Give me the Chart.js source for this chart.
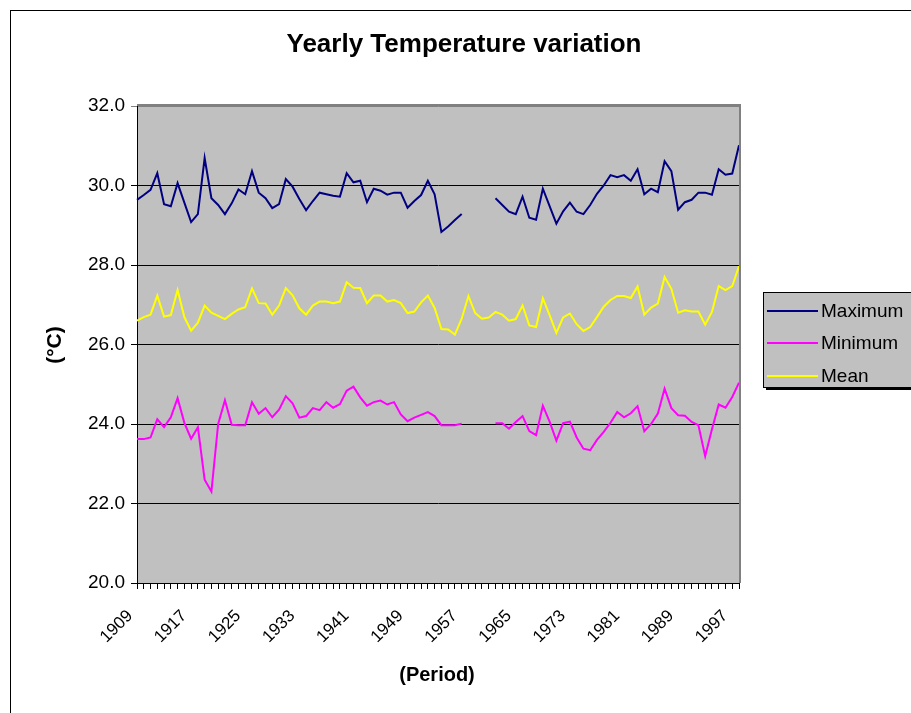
<!DOCTYPE html>
<html>
<head>
<meta charset="utf-8">
<script src="https://cdn.jsdelivr.net/npm/chart.js@4.4.1/dist/chart.umd.min.js"></script>
<style>
    html, body { margin: 0; padding: 0; background: #fff; }
    canvas { display: block; }
</style>
</head>
<body>
<canvas id="grafico" width="911" height="713"></canvas>
<script>
const anos = [
    "1909", "1910", "1911", "1912", "1913", "1914", "1915", "1916", "1917", "1918",
    "1919", "1920", "1921", "1922", "1923", "1924", "1925", "1926", "1927", "1928",
    "1929", "1930", "1931", "1932", "1933", "1934", "1935", "1936", "1937", "1938",
    "1939", "1940", "1941", "1942", "1943", "1944", "1945", "1946", "1947", "1948",
    "1949", "1950", "1951", "1952", "1953", "1954", "1955", "1956", "1957", "1958",
    "1959", "1960", "1961", "1962", "1963", "1964", "1965", "1966", "1967", "1968",
    "1969", "1970", "1971", "1972", "1973", "1974", "1975", "1976", "1977", "1978",
    "1979", "1980", "1981", "1982", "1983", "1984", "1985", "1986", "1987", "1988",
    "1989", "1990", "1991", "1992", "1993", "1994", "1995", "1996", "1997", "1998"
];

// only these years are written under the axis
const rotulosEixo = ["1909", "1917", "1925", "1933", "1941", "1949", "1957", "1965", "1973", "1981", "1989", "1997"];

const maximas = [
    29.64, 29.76, 29.89, 30.31, 29.53, 29.48, 30.06, 29.57, 29.08, 29.28,
    30.69, 29.68, 29.51, 29.28, 29.55, 29.90, 29.78, 30.36, 29.82, 29.68,
    29.43, 29.53, 30.16, 29.97, 29.66, 29.38, 29.61, 29.82, 29.78, 29.74,
    29.72, 30.31, 30.08, 30.12, 29.58, 29.92, 29.87, 29.77, 29.82, 29.82,
    29.44, 29.61, 29.76, 30.12, 29.78, 28.83, 28.97, 29.13, 29.28, null,
    null, null, null, 29.68, 29.51, 29.34, 29.28, 29.72, 29.19, 29.14,
    29.92, 29.48, 29.04, 29.35, 29.57, 29.34, 29.28, 29.51, 29.79, 30.00,
    30.26, 30.21, 30.26, 30.12, 30.41, 29.78, 29.92, 29.83, 30.61, 30.36,
    29.39, 29.58, 29.64, 29.82, 29.82, 29.77, 30.41, 30.27, 30.30, 31.01
];

const minimas = [
    23.62, 23.62, 23.66, 24.12, 23.92, 24.17, 24.65, 24.03, 23.63, 23.92,
    22.60, 22.30, 24.00, 24.60, 23.98, 23.97, 23.97, 24.55, 24.26, 24.40,
    24.17, 24.36, 24.70, 24.52, 24.16, 24.20, 24.40, 24.35, 24.55, 24.41,
    24.50, 24.84, 24.94, 24.67, 24.46, 24.55, 24.59, 24.49, 24.55, 24.24,
    24.07, 24.16, 24.23, 24.30, 24.20, 23.97, 23.97, 23.97, 24.01, null,
    null, null, null, 24.02, 24.02, 23.88, 24.05, 24.20, 23.82, 23.72,
    24.46, 24.06, 23.58, 24.02, 24.06, 23.66, 23.38, 23.34, 23.60, 23.80,
    24.03, 24.30, 24.17, 24.27, 24.45, 23.82, 24.00, 24.26, 24.89, 24.40,
    24.22, 24.21, 24.05, 23.97, 23.19, 23.87, 24.49, 24.41, 24.68, 25.04
];

const medias = [
    26.60, 26.69, 26.75, 27.23, 26.70, 26.74, 27.37, 26.69, 26.35, 26.55,
    26.98, 26.80, 26.72, 26.64, 26.77, 26.88, 26.94, 27.41, 27.04, 27.03,
    26.75, 26.98, 27.42, 27.24, 26.91, 26.75, 26.98, 27.08, 27.08, 27.04,
    27.08, 27.57, 27.43, 27.42, 27.04, 27.23, 27.23, 27.08, 27.12, 27.04,
    26.79, 26.83, 27.06, 27.23, 26.92, 26.39, 26.38, 26.25, 26.65, 27.22,
    26.79, 26.65, 26.68, 26.82, 26.75, 26.60, 26.64, 26.98, 26.48, 26.44,
    27.16, 26.74, 26.29, 26.68, 26.78, 26.51, 26.34, 26.44, 26.69, 26.95,
    27.12, 27.22, 27.22, 27.17, 27.46, 26.75, 26.93, 27.03, 27.70, 27.40,
    26.80, 26.86, 26.83, 26.83, 26.50, 26.82, 27.47, 27.37, 27.47, 27.97
];

const fonte = "'Liberation Sans', Arial, sans-serif";

const desenhoExtra = {
    id: "desenhoExtra",
    beforeDraw(chart) {
        const { ctx, chartArea: a } = chart;
        ctx.save();
        ctx.fillStyle = "#fff";
        ctx.fillRect(0, 0, chart.width, chart.height);
        ctx.strokeStyle = "#000";
        ctx.lineWidth = 1;
        ctx.strokeRect(10.5, 10.5, chart.width + 40, chart.height + 40);
        ctx.fillStyle = "#c0c0c0";
        ctx.fillRect(a.left, a.top, a.right - a.left, a.bottom - a.top);
        ctx.restore();
    },
    afterDraw(chart) {
        const { ctx, chartArea: a } = chart;
        ctx.save();

        // grey frame of the plot area, top and right
        ctx.strokeStyle = "#808080";
        ctx.lineWidth = 2;
        ctx.beginPath();
        ctx.moveTo(a.left, a.top - 1);
        ctx.lineTo(a.right + 1, a.top - 1);
        ctx.lineTo(a.right + 1, a.bottom);
        ctx.stroke();

        ctx.fillStyle = "#000";
        ctx.textAlign = "center";
        ctx.textBaseline = "middle";
        ctx.font = "bold 26px " + fonte;
        ctx.fillText("Yearly Temperature variation", 464, 45);

        ctx.font = "bold 20px " + fonte;
        ctx.fillText("(Period)", 437, 675);

        ctx.translate(55, 345);
        ctx.rotate(-Math.PI / 2);
        ctx.font = "bold 21px " + fonte;
        ctx.fillText("(°C)", 0, 0);
        ctx.setTransform(1, 0, 0, 1, 0, 0);

        // legend box with shadow
        const lx = 763, ly = 292, lw = 200, lh = 95;
        ctx.fillStyle = "#000";
        ctx.fillRect(lx + 3, ly + 3, lw, lh);
        ctx.fillStyle = "#c0c0c0";
        ctx.fillRect(lx, ly, lw, lh);
        ctx.strokeStyle = "#000";
        ctx.lineWidth = 1;
        ctx.strokeRect(lx + 0.5, ly + 0.5, lw, lh);

        const linhasY = [311, 343, 376];
        ctx.font = "19px " + fonte;
        ctx.textAlign = "left";
        chart.data.datasets.forEach((ds, i) => {
            ctx.strokeStyle = ds.borderColor;
            ctx.lineWidth = 2;
            ctx.beginPath();
            ctx.moveTo(767, linhasY[i]);
            ctx.lineTo(818, linhasY[i]);
            ctx.stroke();
            ctx.fillStyle = "#000";
            ctx.fillText(ds.label, 821, linhasY[i] + 1);
        });
        ctx.restore();
    }
};

new Chart(document.getElementById("grafico"), {
    type: "line",
    data: {
        labels: anos,
        datasets: [
            { label: "Maximum", data: maximas, borderColor: "#000080" },
            { label: "Minimum", data: minimas, borderColor: "#ff00ff" },
            { label: "Mean", data: medias, borderColor: "#ffff00" }
        ]
    },
    options: {
        responsive: false,
        animation: false,
        devicePixelRatio: 1,
        spanGaps: false,
        layout: { padding: { left: 0, right: 172, top: 106, bottom: 30 } },
        elements: {
            point: { radius: 0, hoverRadius: 0 },
            line: { borderWidth: 2, tension: 0, fill: false }
        },
        plugins: {
            legend: { display: false },
            title: { display: false },
            tooltip: { enabled: false }
        },
        scales: {
            x: {
                offset: false,
                grid: { drawOnChartArea: false, drawTicks: true, tickLength: 6, color: "#000" },
                border: { color: "#000", width: 1 },
                ticks: {
                    autoSkip: false,
                    minRotation: 45,
                    maxRotation: 45,
                    padding: 17,
                    labelOffset: -7,
                    color: "#000",
                    font: { family: fonte, size: 17 },
                    callback(valor, indice) {
                        const ano = anos[indice];
                        return rotulosEixo.includes(ano) ? ano : "";
                    }
                },
                afterFit(escala) { escala.height = 100; }
            },
            y: {
                min: 20,
                max: 32,
                grid: {
                    color: c => (c.tick && c.tick.value === 32 ? "#808080" : "#000"),
                    drawTicks: true,
                    tickLength: 6
                },
                border: { color: "#000", width: 1 },
                ticks: {
                    stepSize: 2,
                    padding: 6,
                    color: "#000",
                    font: { family: fonte, size: 19 },
                    callback: v => v.toFixed(1)
                },
                afterFit(escala) { escala.width = 137; }
            }
        }
    },
    plugins: [desenhoExtra]
});
</script>
</body>
</html>
